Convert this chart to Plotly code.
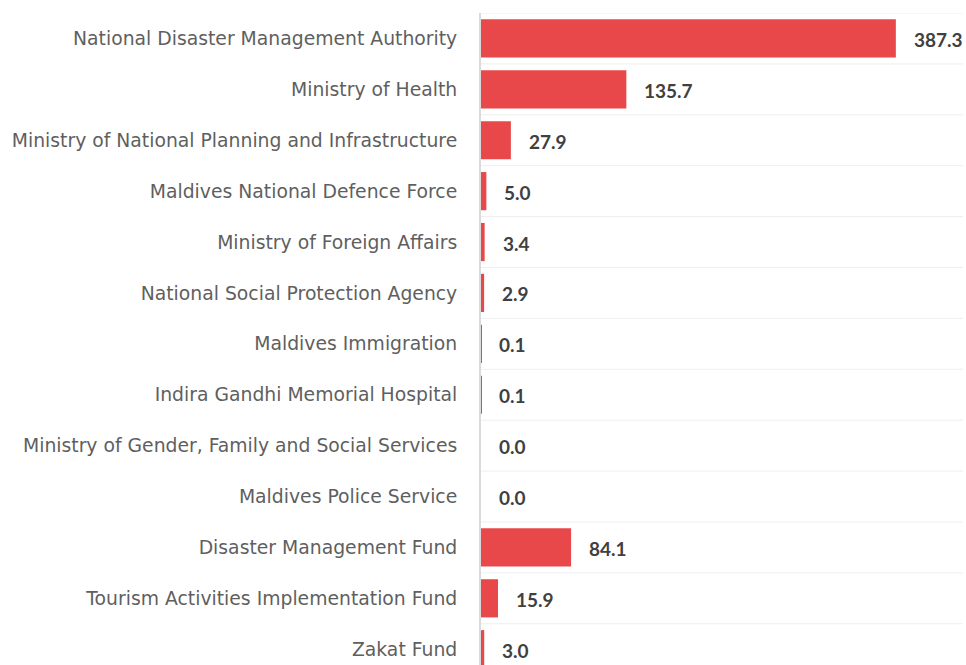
import plotly.graph_objects as go

categories = [
    "National Disaster Management Authority",
    "Ministry of Health",
    "Ministry of National Planning and Infrastructure",
    "Maldives National Defence Force",
    "Ministry of Foreign Affairs",
    "National Social Protection Agency",
    "Maldives Immigration",
    "Indira Gandhi Memorial Hospital",
    "Ministry of Gender, Family and Social Services",
    "Maldives Police Service",
    "Disaster Management Fund",
    "Tourism Activities Implementation Fund",
    "Zakat Fund",
]
values = [387.3, 135.7, 27.9, 5.0, 3.4, 2.9, 0.1, 0.1, 0.0, 0.0, 84.1, 15.9, 3.0]

BAR = "#E8484A"
n = len(categories)
idx = list(range(n))

fig = go.Figure()
fig.add_trace(go.Bar(
    x=values, y=idx, orientation="h",
    marker=dict(color=BAR, line=dict(width=0)),
    width=0.75, hoverinfo="skip",
))

for i, v in zip(idx, values):
    fig.add_annotation(
        x=v, y=i, xref="x", yref="y", text=f"<b>{v:.1f}</b>",
        showarrow=False, xanchor="left", yanchor="middle", xshift=16, yshift=-1,
        font=dict(family="Lato, sans-serif", size=19, color="#404040"),
    )

for b in [i - 0.5 for i in idx] + [n - 0.5]:
    fig.add_shape(type="line", xref="paper", yref="y", x0=0, x1=1, y0=b, y1=b,
                  line=dict(color="#EEEEEE", width=1), layer="below")

fig.update_layout(
    width=966, height=665,
    margin=dict(l=481, r=3, t=13, b=0),
    plot_bgcolor="white", paper_bgcolor="white",
    showlegend=False,
    xaxis=dict(range=[0, 450], showgrid=False, zeroline=False, showticklabels=False,
               showline=False, fixedrange=True),
    yaxis=dict(tickvals=idx, ticktext=categories, range=[12.31, -0.5],
               showgrid=False, zeroline=False, showline=True, linecolor="#DADADA",
               linewidth=2, ticks="", ticklabelstandoff=18,
               tickfont=dict(family="DejaVu Sans, sans-serif", size=18.8, color="#5F5F5F")),
)

fig.write_html("out.html")
